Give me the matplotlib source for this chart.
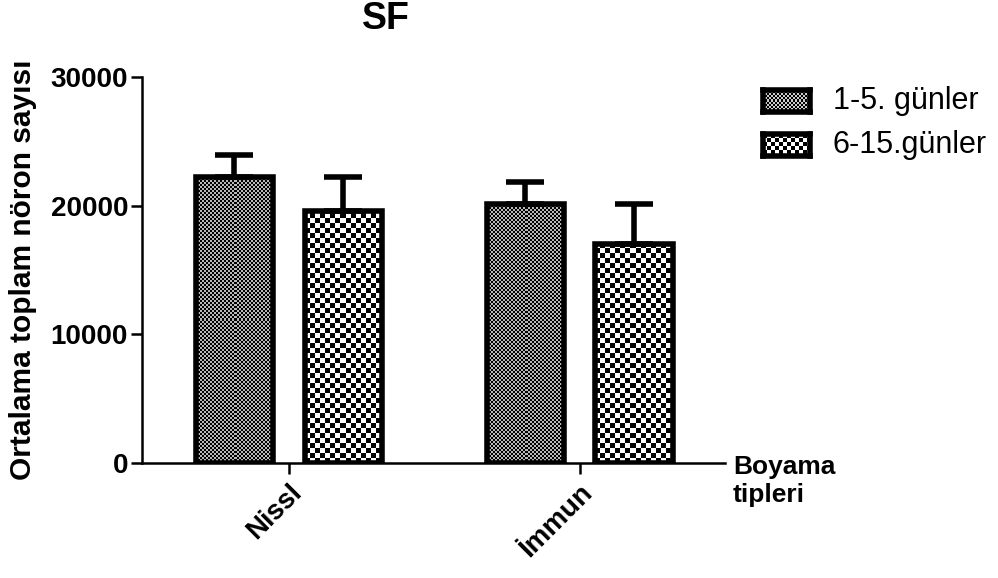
import numpy as np
import matplotlib
matplotlib.use("Agg")
import matplotlib.pyplot as plt

plt.rcParams['font.family'] = ['Liberation Sans', 'DejaVu Sans']

# data
groups = ["Nissl", "İmmun"]
series = ["1-5. günler", "6-15.günler"]
means_early = [22250, 20100]
means_late = [19550, 17000]
upper_early = [23970, 21830]
upper_late = [22220, 20120]

W, H = 998, 578
fig = plt.figure(figsize=(W / 100, H / 100), dpi=100)
ax = fig.add_axes([142 / W, 1 - 463 / H, 583 / W, 386 / H])
ax.set_xlim(-0.505, 1.5)
ax.set_ylim(0, 30000)


def checker(cell, w, h, white=1.0):
    j, i = np.meshgrid(np.arange(w), np.arange(h))
    return ((i // cell + j // cell) % 2).astype(float) * white


def fill_bar(bar, cell, white):
    x0, y0 = bar.get_x(), bar.get_y()
    x1, y1 = x0 + bar.get_width(), y0 + bar.get_height()
    p0 = ax.transData.transform((x0, y0))
    p1 = ax.transData.transform((x1, y1))
    w = int(round(p1[0] - p0[0]))
    h = int(round(p1[1] - p0[1]))
    img = checker(cell, w, h, white)
    im = ax.imshow(img, cmap="gray", vmin=0, vmax=1, extent=(x0, x1, y0, y1),
                   origin="lower", interpolation="nearest", aspect="auto", zorder=1)
    im.set_clip_path(bar)


x = np.arange(len(groups))
bw = 0.265
off = 0.187
cells = [2, 5]
whites = [0.72, 1.0]
for k, (m, up) in enumerate([(means_early, upper_early), (means_late, upper_late)]):
    pos = x + (off if k else -off)
    bars = ax.bar(pos, m, width=bw, facecolor="none", edgecolor="black",
                  linewidth=4, zorder=3)
    for b in bars:
        fill_bar(b, cells[k], whites[k])
    err = np.array(up) - np.array(m)
    ax.errorbar(pos, m, yerr=[np.zeros(len(m)), err], fmt="none", ecolor="black",
                elinewidth=4, capsize=14, capthick=4, zorder=2)

ax.set_aspect("auto")
ax.set_xlim(-0.505, 1.5)
ax.set_ylim(0, 30000)

for s in ["top", "right"]:
    ax.spines[s].set_visible(False)
ax.spines["left"].set_linewidth(1.8)
ax.spines["bottom"].set_linewidth(1.8)
ax.set_yticks([0, 10000, 20000, 30000])
ax.set_xticks(x)
ax.set_xticklabels(groups, rotation=45, ha="right", va="top",
                   rotation_mode="anchor", fontweight="bold", fontsize=20)
ax.tick_params(axis="both", length=8, width=1.8, direction="out")
ax.tick_params(axis="x", pad=4)
ax.tick_params(axis="y", pad=2)
for t in ax.get_yticklabels():
    t.set_fontweight("bold")
    t.set_fontsize(20)
ax.set_ylabel("Ortalama toplam nöron sayısı", fontsize=21.5, fontweight="bold")
ax.yaxis.set_label_coords(-0.18, 0.5)

fig.text(386 / W, 1 - 19 / H, "SF", ha="center", va="center",
         fontsize=27, fontweight="bold")
fig.text(733 / W, 1 - 455 / H, "Boyama\ntipleri", ha="left", va="top",
         fontsize=19, fontweight="bold", linespacing=1.2)

# legend swatches drawn by hand so the checker fill shows
leg_y = [101, 145]
leg_cells = [2, 4]
leg_whites = [0.8, 1.0]
for k in range(2):
    sw = fig.add_axes([763 / W, 1 - (leg_y[k] + 11) / H, 47 / W, 22 / H])
    sw.imshow(checker(leg_cells[k], 47, 22, leg_whites[k]), cmap="gray",
              vmin=0, vmax=1, interpolation="nearest", aspect="auto")
    sw.set_xticks([])
    sw.set_yticks([])
    for s in sw.spines.values():
        s.set_linewidth(4)
    fig.text(833 / W, 1 - leg_y[k] / H, series[k], ha="left", va="center",
             fontsize=22)

fig.savefig("out.png", dpi=100)
